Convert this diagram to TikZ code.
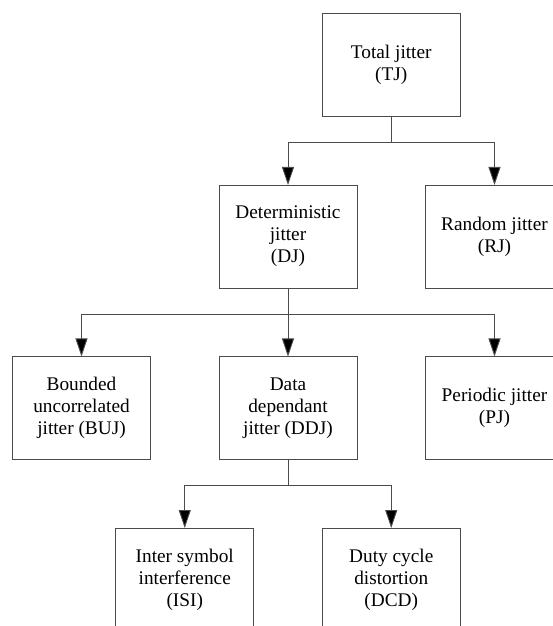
\documentclass[tikz,border=0pt]{standalone}
\usepackage{fontspec}
\setmainfont{Liberation Serif}
\usetikzlibrary{arrows.meta,positioning}
\definecolor{boxline}{RGB}{75,75,75}

\begin{document}
\begin{tikzpicture}[
  >={Triangle[length=18pt,width=12pt,fill=black]}, node distance=68.5pt,
  J/.style={draw=boxline, line width=0.9pt, align=center, outer sep=0pt,
            minimum width=138pt, minimum height=103pt, inner sep=2pt,
            font=\fontsize{19.3}{22}\selectfont},
  link/.style={draw=boxline, line width=0.9pt}]
\useasboundingbox (-288pt,-218pt) rectangle (264pt,408pt);
\node[J] (ddj) {Data\\dependant\\jitter (DDJ)};
\node[J, left=of ddj] (buj) {Bounded\\uncorrelated\\jitter (BUJ)};
\node[J, right=of ddj] (pj) {Periodic jitter\\(PJ)};
\node[J, above=of ddj] (dj) {Deterministic\\jitter\\(DJ)};
\node[J, right=of dj] (rj) {Random jitter\\(RJ)};
\node[J, above=of dj, xshift=103.25pt] (tj) {Total jitter\\(TJ)};
\node[J, below=of ddj, xshift=-103.25pt] (isi) {Inter symbol\\interference\\(ISI)};
\node[J, below=of ddj, xshift=103.25pt] (dcd) {Duty cycle\\distortion\\(DCD)};
% branch points
\coordinate[below=26pt of tj] (t1);
\coordinate[below=26pt of dj] (d1);
\coordinate[below=26pt of ddj] (e1);
\draw[link] (tj) -- (t1);
\draw[link,->] (t1) -| (dj);
\draw[link,->] (t1) -| (rj);
\draw[link] (dj) -- (d1);
\draw[link,->] (d1) -| (buj);
\draw[link,->] (d1) -- (ddj);
\draw[link,->] (d1) -| (pj);
\draw[link] (ddj) -- (e1);
\draw[link,->] (e1) -| (isi);
\draw[link,->] (e1) -| (dcd);
\end{tikzpicture}
\end{document}
